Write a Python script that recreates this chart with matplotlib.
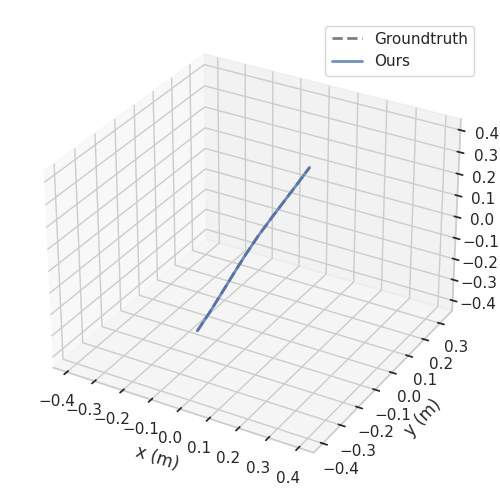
import matplotlib
matplotlib.use("Agg")
import matplotlib.pyplot as plt
import seaborn as sns
import numpy as np

sns.set_theme(style="whitegrid")

gt_x = [-0.103, -0.083, -0.061, -0.039, -0.017, 0.006, 0.031, 0.055, 0.078, 0.100]
gt_y = [-0.200, -0.167, -0.133, -0.100, -0.067, -0.033, 0.000, 0.033, 0.067, 0.100]
gt_z = [-0.327, -0.262, -0.186, -0.109, -0.034, 0.038, 0.106, 0.170, 0.232, 0.293]
our_x = [-0.103, -0.083, -0.061, -0.039, -0.017, 0.006, 0.031, 0.055, 0.078, 0.100]
our_y = [-0.200, -0.167, -0.133, -0.100, -0.067, -0.033, 0.000, 0.033, 0.067, 0.100]
our_z = [-0.327, -0.262, -0.186, -0.109, -0.034, 0.038, 0.106, 0.170, 0.232, 0.293]

fig = plt.figure(figsize=(5, 5), dpi=100)
ax = fig.add_subplot(111, projection='3d')
ax.plot(gt_x, gt_y, gt_z, '--', color='gray', lw=2, label='Groundtruth')
ax.plot(our_x, our_y, our_z, '-', color='#4c72b0', lw=2, alpha=0.8, label='Ours')
ax.set_xlim(-0.45, 0.45)
ax.set_ylim(-0.45, 0.38)
ax.set_zlim(-0.45, 0.45)
ax.set_xlabel('x (m)')
ax.set_ylabel('y (m)')
ax.legend(loc='upper right')
fig.tight_layout()
fig.savefig('out.png', dpi=100)
